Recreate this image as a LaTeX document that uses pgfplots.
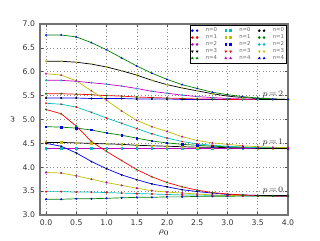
\documentclass[border=0pt]{standalone}
\usepackage{pgfplots}
\usepackage{pgfplotstable}
\pgfplotsset{compat=1.18}
\usepackage{fontspec}
\setmainfont{DejaVu Sans}
\usetikzlibrary{plotmarks}
\definecolor{mb}{rgb}{0,0,1}
\definecolor{mg}{rgb}{0,0.5,0}
\definecolor{mr}{rgb}{1,0,0}
\definecolor{mc}{rgb}{0,0.75,0.75}
\definecolor{mm}{rgb}{0.75,0,0.75}
\definecolor{my}{rgb}{0.75,0.75,0}
\definecolor{mk}{rgb}{0,0,0}

\pgfplotstableread{
rho n0 n1 n2 n3 n4
0.00 3.33 3.49 3.89 4.50 5.21
0.25 3.33 3.49 3.88 4.44 5.12
0.50 3.34 3.48 3.82 4.30 4.86
0.75 3.34 3.48 3.75 4.12 4.54
1.00 3.35 3.47 3.68 3.97 4.33
1.25 3.36 3.46 3.62 3.84 4.14
1.50 3.37 3.45 3.56 3.74 3.95
1.75 3.37 3.44 3.51 3.65 3.80
2.00 3.38 3.43 3.48 3.59 3.68
2.25 3.38 3.42 3.46 3.53 3.59
2.50 3.39 3.42 3.44 3.49 3.52
2.75 3.39 3.41 3.42 3.46 3.47
3.00 3.39 3.41 3.41 3.43 3.44
3.25 3.40 3.40 3.41 3.42 3.42
3.50 3.40 3.40 3.40 3.41 3.41
3.75 3.40 3.40 3.40 3.40 3.40
4.00 3.40 3.40 3.40 3.40 3.40
}\pzero

\pgfplotstableread{
rho n0 n1 n2 n3 n4
0.00 4.40 4.52 4.85 5.34 5.96
0.25 4.40 4.52 4.84 5.32 5.93
0.50 4.40 4.51 4.82 5.26 5.81
0.75 4.40 4.50 4.78 5.15 5.60
1.00 4.40 4.49 4.72 5.03 5.40
1.25 4.40 4.48 4.67 4.92 5.18
1.50 4.40 4.46 4.61 4.81 4.98
1.75 4.40 4.45 4.55 4.70 4.85
2.00 4.40 4.44 4.51 4.61 4.75
2.25 4.40 4.43 4.48 4.54 4.64
2.50 4.40 4.42 4.46 4.49 4.56
2.75 4.40 4.42 4.44 4.46 4.51
3.00 4.40 4.41 4.43 4.44 4.48
3.25 4.40 4.41 4.42 4.42 4.45
3.50 4.40 4.40 4.41 4.41 4.43
3.75 4.40 4.40 4.41 4.41 4.42
4.00 4.40 4.40 4.40 4.40 4.41
}\pone

\pgfplotstableread{
rho n0 n1 n2 n3 n4
0.00 5.45 5.54 5.82 6.22 6.77
0.25 5.45 5.54 5.82 6.22 6.77
0.50 5.45 5.53 5.80 6.20 6.73
0.75 5.44 5.52 5.77 6.16 6.61
1.00 5.44 5.50 5.74 6.10 6.46
1.25 5.44 5.49 5.70 6.02 6.29
1.50 5.43 5.47 5.65 5.93 6.12
1.75 5.43 5.46 5.59 5.82 5.97
2.00 5.43 5.45 5.55 5.73 5.84
2.25 5.42 5.44 5.51 5.66 5.73
2.50 5.42 5.43 5.48 5.60 5.65
2.75 5.42 5.43 5.46 5.54 5.57
3.00 5.42 5.42 5.44 5.49 5.52
3.25 5.42 5.42 5.43 5.46 5.48
3.50 5.42 5.42 5.42 5.44 5.45
3.75 5.42 5.42 5.42 5.43 5.43
4.00 5.42 5.42 5.42 5.42 5.42
}\ptwo

\pgfplotsset{
  ln/.style={line width=0.5pt, forget plot},
  mks/.style={only marks, mark size=0.5pt,
    legend image code/.code={\draw[##1, mark size=0.6pt] plot coordinates {(0cm,0cm) (0.12cm,0cm)};}},
}

\begin{document}
\begin{tikzpicture}
\begin{axis}[
  scale only axis,
  width=6.2cm, height=4.775cm,
  xmin=-0.1, xmax=4.0, ymin=3.0, ymax=7.0,
  xtick={0,0.5,...,4.0},
  ytick={3,3.5,...,7},
  xticklabel style={/pgf/number format/.cd, fixed, fixed zerofill, precision=1},
  yticklabel style={/pgf/number format/.cd, fixed, fixed zerofill, precision=1},
  /pgf/number format/assume math mode=true,
  tick label style={font=\fontsize{5.5}{6}\selectfont, text=black!80},
  tick align=inside,
  major tick length=2pt,
  axis line style={black!55, line width=0.8pt},
  every tick/.style={black!70, line width=0.4pt},
  grid=major,
  major grid style={black!45, dotted, line width=0.4pt},
  xlabel={$\rho_0$}, ylabel={$\omega$},
  label style={font=\fontsize{6}{7}\selectfont},
  xlabel style={yshift=4pt},
  ylabel style={yshift=-1pt},
  legend columns=3,
  legend style={at={(0.995,0.995)}, anchor=north east, draw=black, line width=0.6pt,
    fill=white, font=\fontsize{3.8}{4.2}\selectfont, inner sep=1pt,
    column sep=5pt, row sep=-0.6pt, text=black!60,
    nodes={inner sep=0.6pt}},
  legend cell align=left,
]
% n = 0
\addplot[mg, ln] table[x=rho, y=n0]{\pzero};
\addplot[mb, mks, mark=*] table[x=rho, y=n0]{\pzero};
\addlegendentry{n=0}
\addplot[mm, ln] table[x=rho, y=n0]{\pone};
\addplot[mc, mks, mark=square*] table[x=rho, y=n0]{\pone};
\addlegendentry{n=0}
\addplot[mb, ln] table[x=rho, y=n0]{\ptwo};
\addplot[mk, mks, mark=*] table[x=rho, y=n0]{\ptwo};
\addlegendentry{n=0}
% n = 1
\addplot[mc, ln] table[x=rho, y=n1]{\pzero};
\addplot[mr, mks, mark=*] table[x=rho, y=n1]{\pzero};
\addlegendentry{n=1}
\addplot[mk, ln] table[x=rho, y=n1]{\pone};
\addplot[my, mks, mark=square*] table[x=rho, y=n1]{\pone};
\addlegendentry{n=1}
\addplot[mr, ln] table[x=rho, y=n1]{\ptwo};
\addplot[mg, mks, mark=*] table[x=rho, y=n1]{\ptwo};
\addlegendentry{n=1}
% n = 2
\addplot[my, ln] table[x=rho, y=n2]{\pzero};
\addplot[mm, mks, mark=*] table[x=rho, y=n2]{\pzero};
\addlegendentry{n=2}
\addplot[mg, ln] table[x=rho, y=n2]{\pone};
\addplot[mb, mks, mark=square*] table[x=rho, y=n2]{\pone};
\addlegendentry{n=2}
\addplot[mm, ln] table[x=rho, y=n2]{\ptwo};
\addplot[mc, mks, mark=*] table[x=rho, y=n2]{\ptwo};
\addlegendentry{n=2}
% n = 3
\addplot[mb, ln] table[x=rho, y=n3]{\pzero};
\addplot[mk, mks, mark=triangle*, mark options={rotate=180}] table[x=rho, y=n3]{\pzero};
\addlegendentry{n=3}
\addplot[mc, ln] table[x=rho, y=n3]{\pone};
\addplot[mr, mks, mark=triangle*, mark options={rotate=180}] table[x=rho, y=n3]{\pone};
\addlegendentry{n=3}
\addplot[mk, ln] table[x=rho, y=n3]{\ptwo};
\addplot[my, mks, mark=triangle*, mark options={rotate=180}] table[x=rho, y=n3]{\ptwo};
\addlegendentry{n=3}
% n = 4
\addplot[mr, ln] table[x=rho, y=n4]{\pzero};
\addplot[mg, mks, mark=triangle*] table[x=rho, y=n4]{\pzero};
\addlegendentry{n=4}
\addplot[my, ln] table[x=rho, y=n4]{\pone};
\addplot[mm, mks, mark=triangle*] table[x=rho, y=n4]{\pone};
\addlegendentry{n=4}
\addplot[mg, ln] table[x=rho, y=n4]{\ptwo};
\addplot[mb, mks, mark=triangle*] table[x=rho, y=n4]{\ptwo};
\addlegendentry{n=4}
% asymptotes
\addplot[black, line width=0.7pt, forget plot] coordinates {(3.45,3.40) (4.0,3.40)};
\addplot[black, line width=0.7pt, forget plot] coordinates {(3.45,4.40) (4.0,4.40)};
\addplot[black, line width=0.7pt, forget plot] coordinates {(3.45,5.42) (4.0,5.42)};
\node[font=\fontsize{6}{7}\selectfont, text=black!80] at (axis cs:3.75,5.53) {$p\!=\!2$};
\node[font=\fontsize{6}{7}\selectfont, text=black!80] at (axis cs:3.75,4.51) {$p\!=\!1$};
\node[font=\fontsize{6}{7}\selectfont, text=black!80] at (axis cs:3.75,3.51) {$p\!=\!0$};
\end{axis}
\pgfresetboundingbox
\path[use as bounding box] ([shift={(-1.0cm,-0.625cm)}]current axis.south west) rectangle ([shift={(0.8cm,0.6cm)}]current axis.north east);
\end{tikzpicture}
\end{document}
